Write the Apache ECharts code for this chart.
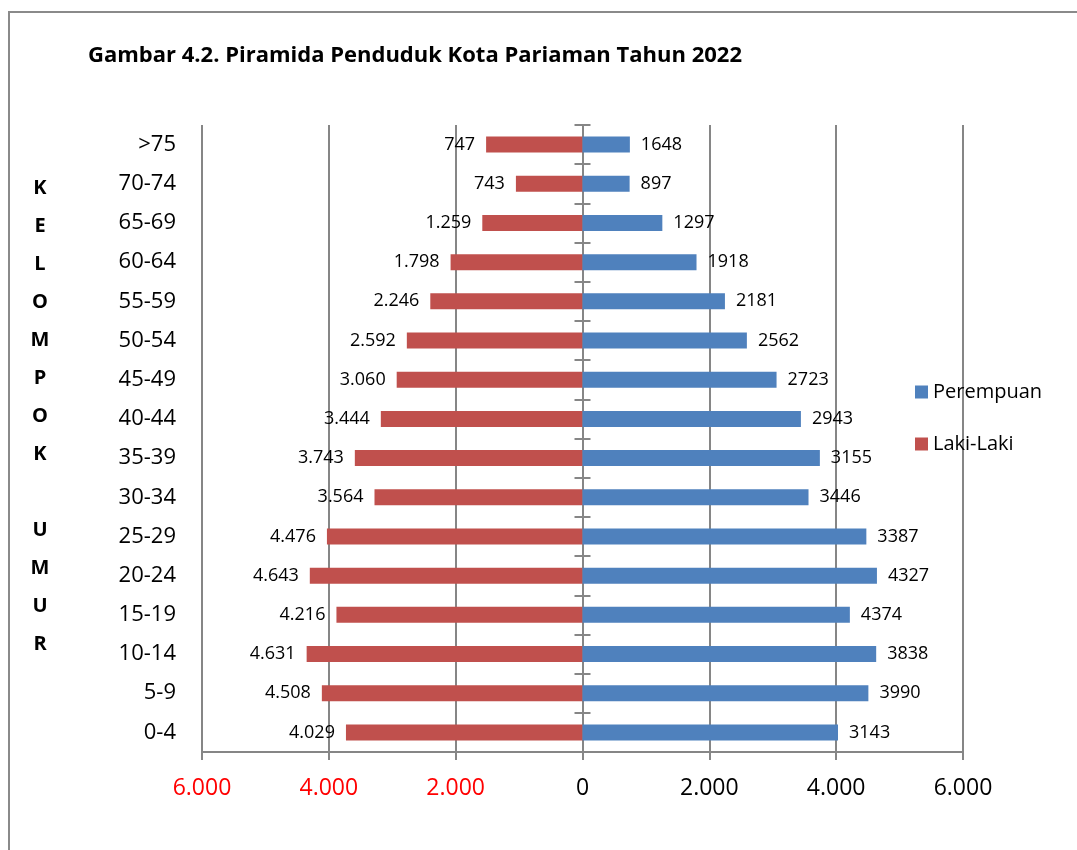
<!DOCTYPE html>
<html>
<head>
<meta charset="utf-8">
<script src="https://cdn.jsdelivr.net/npm/echarts@6/dist/echarts.min.js"></script>
<style>html,body{margin:0;padding:0;background:#fff}#c{width:1077px;height:850px}</style>
</head>
<body>
<div id="c"></div>
<script>
// categories bottom -> top
var categories = ['0-4','5-9','10-14','15-19','20-24','25-29','30-34','35-39','40-44','45-49','50-54','55-59','60-64','65-69','70-74','>75'];
// bar lengths (bottom -> top)
var lakiValues = [3730, 4110, 4350, 3880, 4300, 4030, 3280, 3590, 3180, 2930, 2770, 2400, 2080, 1580, 1050, 1520];
var perempuanValues = [4029, 4508, 4631, 4216, 4643, 4476, 3564, 3743, 3444, 3060, 2592, 2246, 1798, 1259, 743, 747];
// label texts shown in the picture (bottom -> top)
var lakiLabels = [4029, 4508, 4631, 4216, 4643, 4476, 3564, 3743, 3444, 3060, 2592, 2246, 1798, 1259, 743, 747];
var perempuanLabels = [3143, 3990, 3838, 4374, 4327, 3387, 3446, 3155, 2943, 2723, 2562, 2181, 1918, 1297, 897, 1648];
var xTicks = [-6000, -4000, -2000, 0, 2000, 4000, 6000];
var sideLetters = ['K','E','L','O','M','P','O','K','','U','M','U','R'];

function dotFmt(v) {
  v = Math.abs(v);
  return String(v).replace(/\B(?=(\d{3})+(?!\d))/g, '.');
}
var FONT = '"Open Sans", sans-serif';
var GRAY = '#868686';
var chart = echarts.init(document.getElementById('c'));
chart.setOption({
  animation: false,
  backgroundColor: '#fff',
  textStyle: { fontFamily: FONT },
  graphic: [
    { type: 'rect', shape: { x: 9, y: 12, width: 1100, height: 900 }, style: { fill: 'none', stroke: '#8a8a8a', lineWidth: 2 }, silent: true },
    { type: 'text', left: 88, top: 45, style: { text: 'Gambar 4.2. Piramida Penduduk Kota Pariaman Tahun 2022', font: 'bold 22px ' + FONT, fill: '#000' } },
    { type: 'text', x: 40, y: 169, style: { text: sideLetters.join('\n'), font: 'bold 20px ' + FONT, lineHeight: 38, align: 'center', verticalAlign: 'top', fill: '#000' } }
  ],
  legend: {
    orient: 'vertical',
    left: 910,
    top: 377,
    itemWidth: 13,
    itemHeight: 13,
    itemGap: 32,
    icon: 'rect',
    data: ['Perempuan', 'Laki-Laki'],
    textStyle: { fontSize: 20, color: '#000', fontFamily: FONT }
  },
  grid: { left: 202, right: 114, top: 125, bottom: 98, containLabel: false, outerBoundsMode: 'none' },
  xAxis: [
    {
      type: 'value',
      min: xTicks[0],
      max: xTicks[xTicks.length - 1],
      interval: 2000,
      axisLine: { show: true, lineStyle: { color: GRAY, width: 2 } },
      axisTick: { show: true, length: 8, lineStyle: { color: GRAY, width: 2 } },
      splitLine: { show: true, lineStyle: { color: GRAY, width: 2 } },
      axisLabel: {
        margin: 25,
        fontSize: 23,
        fontFamily: FONT,
        formatter: function (v) { return dotFmt(v); },
        color: function (v) { return Number(v) < 0 ? '#ff0000' : '#000'; }
      }
    },
    {
      type: 'value',
      show: false,
      position: 'top',
      min: xTicks[0],
      max: xTicks[xTicks.length - 1],
      interval: 2000
    }
  ],
  yAxis: [
    {
      type: 'category',
      data: categories,
      position: 'left',
      axisLine: { show: false, onZero: false },
      axisTick: { show: false },
      splitLine: { show: false },
      axisLabel: { margin: 26, fontSize: 22, color: '#000', fontFamily: FONT }
    },
    {
      type: 'category',
      data: categories,
      position: 'left',
      axisLine: { show: true, onZero: true, onZeroAxisIndex: 0, lineStyle: { color: GRAY, width: 2 } },
      axisTick: { show: true, length: 8, lineStyle: { color: GRAY, width: 2 } },
      axisLabel: { show: false }
    },
    {
      type: 'category',
      data: categories,
      position: 'right',
      axisLine: { show: false, onZero: true, onZeroAxisIndex: 1 },
      axisTick: { show: true, length: 8, lineStyle: { color: GRAY, width: 2 } },
      axisLabel: { show: false }
    }
  ],
  series: [
    {
      name: 'Laki-Laki',
      type: 'bar',
      barWidth: 16,
      barGap: '-100%',
      itemStyle: { color: '#C0504D' },
      data: lakiValues.map(function (v) { return -v; }),
      label: {
        show: true,
        position: 'left',
        distance: 11,
        fontSize: 18,
        color: '#000',
        fontFamily: FONT,
        formatter: function (p) { return dotFmt(lakiLabels[p.dataIndex]); }
      }
    },
    {
      name: 'Perempuan',
      type: 'bar',
      barWidth: 16,
      barGap: '-100%',
      itemStyle: { color: '#4F81BD' },
      data: perempuanValues,
      label: {
        show: true,
        position: 'right',
        distance: 11,
        fontSize: 18,
        color: '#000',
        fontFamily: FONT,
        formatter: function (p) { return String(perempuanLabels[p.dataIndex]); }
      }
    }
  ]
});
</script>
</body>
</html>
